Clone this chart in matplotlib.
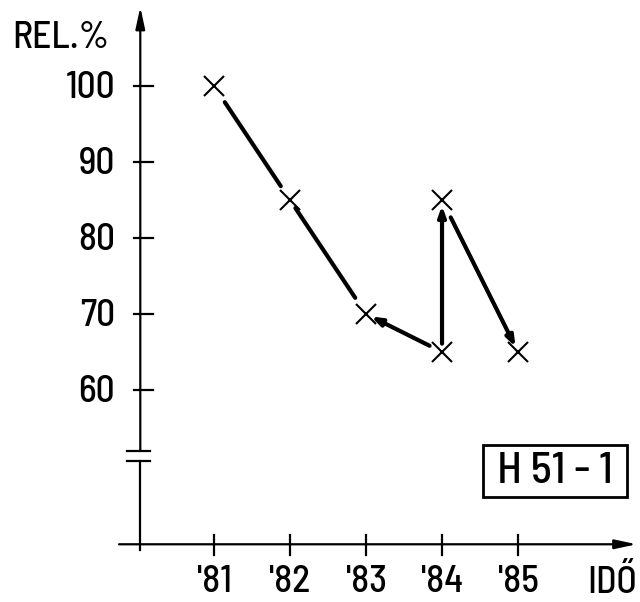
import matplotlib
matplotlib.use('Agg')
import matplotlib.pyplot as plt
from matplotlib.patches import Rectangle

plt.rcParams['font.family'] = ['Barlow Semi Condensed', 'DejaVu Sans']
plt.rcParams['font.weight'] = 500

# data
years = [81, 82, 83, 84, 84, 85]
rel_values = [100, 85, 70, 65, 85, 65]
# segments between points (start index, end index, has arrow head)
segments = [(0, 1, False), (1, 2, False), (3, 2, True), (3, 4, True), (4, 5, True)]
seg_gaps = [(14, 12), (7, 14), (10, 4), (6, 4), (14, 4)]
x_ticks = [81, 82, 83, 84, 85]
x_labels = ["'81", "'82", "'83", "'84", "'85"]
y_ticks = [60, 70, 80, 90, 100]

fig = plt.figure(figsize=(6.4, 6.02), dpi=100)
ax = fig.add_axes([0, 0, 1, 1])
ax.set_xlim(78.184, 86.605)
ax.set_ylim(32.105, 111.316)
ax.axis('off')

y_axis_x = 80.03
x_axis_y = 39.7
break_hi, break_lo = 52.0, 50.7

# y axis with arrow, broken near the bottom
ax.annotate('', xy=(y_axis_x, 110.4), xytext=(y_axis_x, break_hi),
            arrowprops=dict(arrowstyle='-|>,head_length=0.65,head_width=0.14',
                            lw=1.6, color='black', shrinkA=0, shrinkB=0,
                            mutation_scale=20))
ax.plot([y_axis_x, y_axis_x], [break_lo, 38.9], color='black', lw=1.6)
for yb in (break_hi, break_lo):
    ax.plot([79.86, 80.16], [yb, yb], color='black', lw=1.6)

# x axis with arrow
ax.annotate('', xy=(86.56, x_axis_y), xytext=(79.75, x_axis_y),
            arrowprops=dict(arrowstyle='-|>,head_length=0.65,head_width=0.14',
                            lw=1.6, color='black', shrinkA=0, shrinkB=0,
                            mutation_scale=20))

# ticks and labels
for v in y_ticks:
    ax.plot([79.95, 80.20], [v, v], color='black', lw=1.6)
    ax.text(79.70, v - 0.3, str(v), ha='right', va='center', fontsize=27)
for xt, lab in zip(x_ticks, x_labels):
    ax.plot([xt, xt], [40.9, 38.3], color='black', lw=1.6)
    ax.text(xt, 37.0, lab, ha='center', va='top', fontsize=27)

ax.text(78.34, 106.3, 'REL.%', ha='left', va='center', fontsize=27)
ax.text(85.91, 37.0, 'IDŐ', ha='left', va='top', fontsize=27)

# series
for (i, j, head), (ga, gb) in zip(segments, seg_gaps):
    style = '-|>,head_length=0.5,head_width=0.18' if head else '-'
    ax.annotate('', xy=(years[j], rel_values[j]), xytext=(years[i], rel_values[i]),
                arrowprops=dict(arrowstyle=style, lw=3, color='black',
                                shrinkA=ga, shrinkB=gb, mutation_scale=12,
                                capstyle='round'))
ax.plot(years, rel_values, 'x', ms=15, mew=1.5, color='black', ls='none')

# label box
ax.add_patch(Rectangle((84.54, 45.92), 1.89, 6.84, fill=False, ec='black', lw=2))
ax.text(85.49, 49.3, 'H 51 - 1', ha='center', va='center', fontsize=32)

fig.savefig('out.png', dpi=100)
